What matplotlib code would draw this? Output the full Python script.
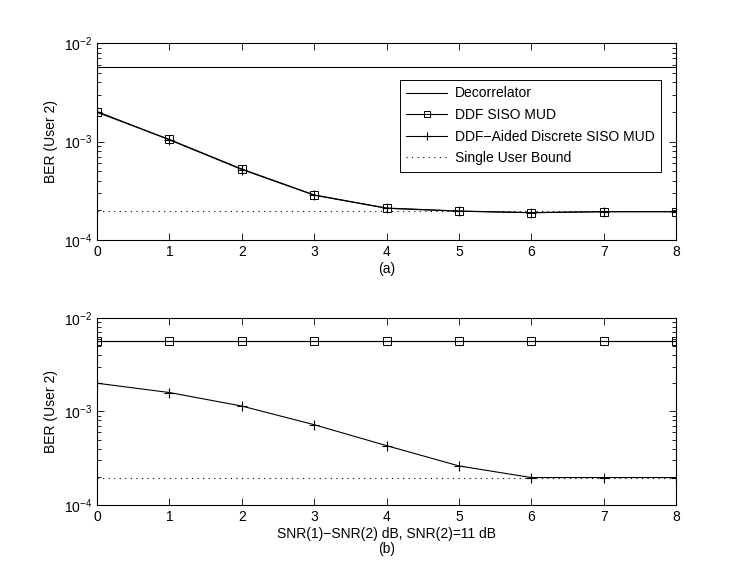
import matplotlib
matplotlib.use('Agg')
import matplotlib.pyplot as plt
from matplotlib.ticker import LogLocator, NullFormatter

plt.rcParams['font.family'] = ['Liberation Sans', 'DejaVu Sans']
plt.rcParams['font.size'] = 10
plt.rcParams['mathtext.default'] = 'regular'

# dados
snr = [0, 1, 2, 3, 4, 5, 6, 7, 8]
decorr_a = [5.66e-3] * 9
ddf_a = [1.98e-3, 1.05e-3, 5.26e-4, 2.87e-4, 2.11e-4, 1.97e-4, 1.89e-4, 1.94e-4, 1.94e-4]
disc_a = [2.02e-3, 1.04e-3, 5.2e-4, 2.85e-4, 2.1e-4, 1.96e-4, 1.9e-4, 1.94e-4, 1.94e-4]
bound_a = [1.97e-4] * 9

decorr_b = [5.7e-3] * 9
ddf_b = [5.7e-3] * 9
disc_b = [2.0e-3, 1.59e-3, 1.14e-3, 7.2e-4, 4.3e-4, 2.61e-4, 1.96e-4, 1.96e-4, 1.96e-4]
bound_b = [1.95e-4] * 9

fig = plt.figure(figsize=(7.47, 5.79), dpi=100)
ax1 = fig.add_axes([0.130, 0.5855, 0.775, 0.340])
ax2 = fig.add_axes([0.130, 0.128, 0.775, 0.323])


def desenha(ax, decorr, ddf, disc, bound):
    ax.semilogy(snr, decorr, 'k-', lw=0.8, label='Decorrelator')
    ax.semilogy(snr, ddf, 'k-', lw=0.8, marker='s', ms=5.5, mfc='none', mew=0.7,
                label='DDF SISO MUD')
    ax.semilogy(snr, disc, 'k-', lw=0.8, marker='+', ms=7, mew=0.8,
                label='DDF\u2212Aided Discrete SISO MUD')
    ax.semilogy(snr, bound, color='k', ls=(0, (1, 4)), lw=0.8, label='Single User Bound')
    ax.set_xlim(0, 8)
    ax.set_ylim(1e-4, 1e-2)
    ax.set_xticks(snr)
    ax.yaxis.set_major_locator(LogLocator(base=10, numticks=5))
    ax.yaxis.set_minor_locator(LogLocator(base=10, subs=range(2, 10), numticks=10))
    ax.yaxis.set_minor_formatter(NullFormatter())
    ax.tick_params(which='both', direction='in', top=True, right=True, width=0.6)
    ax.tick_params(which='major', length=5)
    ax.tick_params(which='minor', length=3)
    for s in ax.spines.values():
        s.set_linewidth(0.8)
    ax.set_ylabel('BER (User 2)')


desenha(ax1, decorr_a, ddf_a, disc_a, bound_a)
desenha(ax2, decorr_b, ddf_b, disc_b, bound_b)

ax1.set_xlabel('(a)', labelpad=2)
ax2.set_xlabel('SNR(1)\u2212SNR(2) dB, SNR(2)=11 dB\n(b)', labelpad=2, linespacing=1.1)

leg = ax1.legend(loc='upper right', bbox_to_anchor=(0.974, 0.812), borderaxespad=0,
                 handlelength=2.9, fancybox=False, edgecolor='k', framealpha=1,
                 borderpad=0.45, labelspacing=0.55, handletextpad=0.6, fontsize=10,
                 markerscale=0.85)
leg.get_frame().set_linewidth(0.7)

fig.savefig('out.png', dpi=100)
